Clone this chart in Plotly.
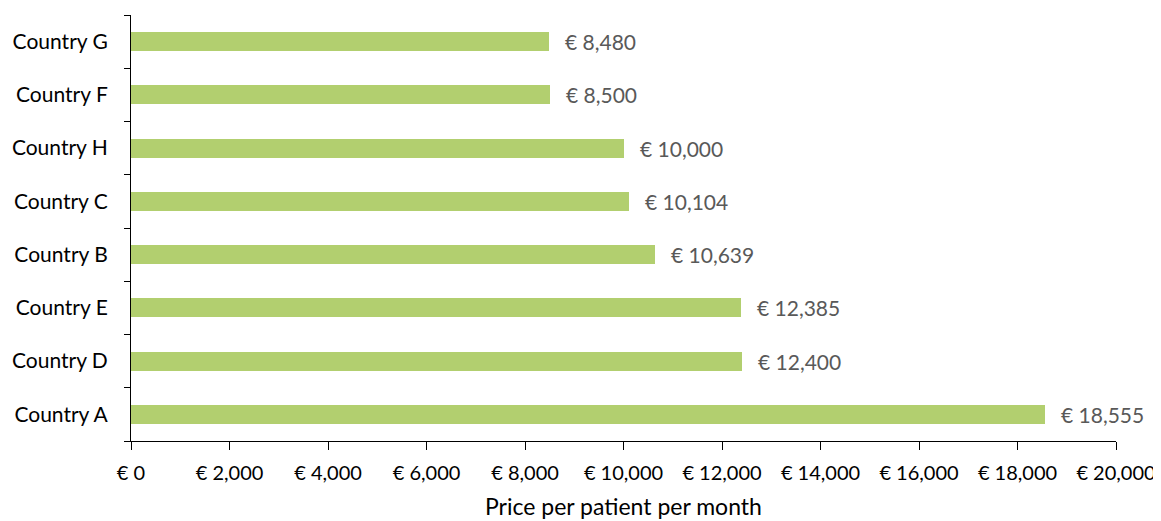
import plotly.graph_objects as go

countries = ["Country A", "Country D", "Country E", "Country B", "Country C", "Country H", "Country F", "Country G"]
prices = [18555, 12400, 12385, 10639, 10104, 10000, 8500, 8480]
x_ticks = list(range(0, 20001, 2000))
x_tick_labels = ["€ {:,}".format(v) for v in x_ticks]

FONT = "Lato, Carlito, Calibri, sans-serif"

fig = go.Figure()
fig.add_trace(go.Bar(
    x=prices, y=countries, orientation="h",
    marker=dict(color="#b2cf6f", line=dict(width=0)),
    width=0.36, hoverinfo="skip",
))
for c, p in zip(countries, prices):
    fig.add_annotation(x=p, y=c, text="€ {:,}".format(p), showarrow=False,
                       xanchor="left", yanchor="middle", xshift=14,
                       font=dict(family=FONT, size=21, color="#595959"))

fig.add_annotation(x=0.5, xref="paper", y=-(506 - 441) / 426, yref="paper", yanchor="middle",
                   text="Price per patient per month", showarrow=False,
                   font=dict(family=FONT, size=23, color="black"))

fig.update_layout(
    width=1153, height=513,
    margin=dict(l=123, r=45, t=7, b=80, pad=0),
    plot_bgcolor="white", paper_bgcolor="white",
    showlegend=False, bargap=0,
    font=dict(family=FONT, size=21, color="black"),
)
fig.update_xaxes(
    range=[0, 20000], tickvals=x_ticks, ticktext=x_tick_labels, automargin=False,
    showgrid=False, zeroline=False, showline=True, linecolor="black", linewidth=1,
    ticks="outside", ticklen=8, tickcolor="black", ticklabelstandoff=6,
    tickfont=dict(size=20),
)
fig.update_yaxes(
    categoryorder="array", categoryarray=countries, automargin=False,
    showgrid=False, zeroline=False, showline=True, linecolor="black", linewidth=1,
    ticks="outside", ticklen=6, tickcolor="black", tickson="boundaries",
    ticklabelstandoff=18,
)
fig.write_html("out.html")
